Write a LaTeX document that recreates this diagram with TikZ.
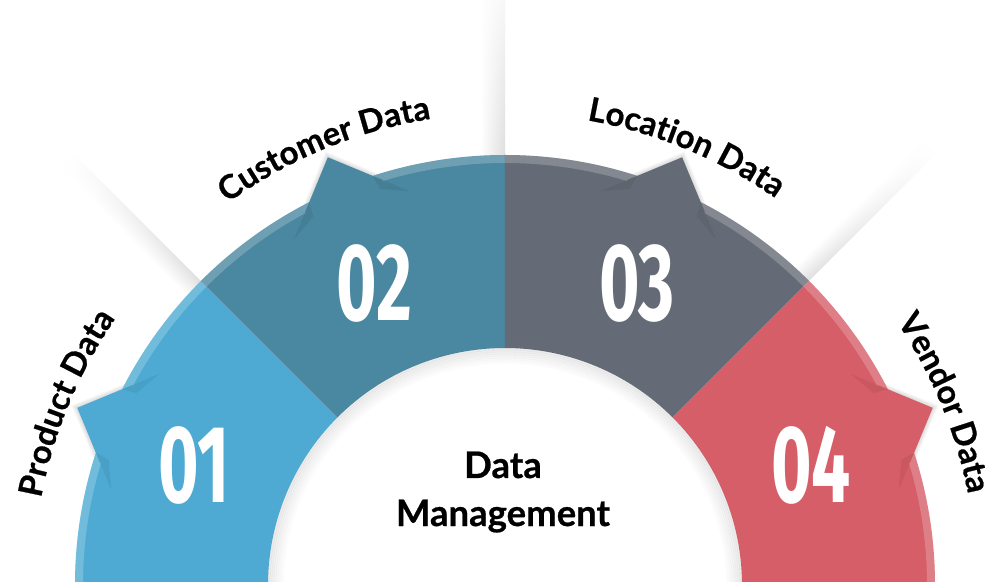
\documentclass[tikz,border=0pt]{standalone}
\usepackage{fontspec}
\setmainfont{Lato}[BoldFeatures={FakeBold=0.6}]
\newfontfamily\numfont{Fira Sans}
\usetikzlibrary{decorations.text,fadings}

\definecolor{segA}{RGB}{78,170,211}
\definecolor{segB}{RGB}{74,135,160}
\definecolor{segC}{RGB}{101,107,118}
\definecolor{segD}{RGB}{214,94,104}

\tikzset{
  arclabel/.style={decorate, decoration={text along path, text align=center,
      text={|\bfseries\fontsize{33}{33}\selectfont|#1}}},
  numlabel/.style={text=white, inner sep=0pt, font=\numfont\bfseries\fontsize{110}{110}\selectfont},
  hubtext/.style={text=black, inner sep=0pt, anchor=base, font=\bfseries\fontsize{36.5}{36.5}\selectfont},
  streak/.style={top color=white, bottom color=black!13, path fading=east}
}

\begin{document}
\begin{tikzpicture}[x=1pt,y=1pt]
\useasboundingbox (-505,4) rectangle (488,585);
\fill[white] (-505,4) rectangle (488,585);

% soft streaks on the counter-clockwise side of each divider, beyond the ring
\shade[streak, transform canvas={rotate=135}] (428,0) rectangle (610,20);
\shade[streak, transform canvas={rotate=45}] (428,0) rectangle (610,20);
\shade[streak, transform canvas={rotate=90}] (428,0) rectangle (630,24);

% soft shadows under the folded tabs
\foreach \t in {157.5,112.5,67.5,22.5}{
  \begin{scope}[rotate=\t]
    \foreach \s in {2,4,6,8}
      \fill[black, opacity=0.03] (463+0.8*\s,0) -- (420.6-0.3*\s,42.4+\s) -- (400,0) -- (420.6-0.3*\s,-42.4-\s) -- cycle;
  \end{scope}
}

% ring segments with a lighter outer rim
\foreach \a/\b/\c in {180/135/segA, 135/90/segB, 90/45/segC, 45/0/segD}{
  \fill[\c] (\a:237) arc[start angle=\a, end angle=\b, radius=237]
        -- (\b:430) arc[start angle=\b, end angle=\a, radius=430] -- cycle;
  \fill[white, opacity=0.2] (\a:422) arc[start angle=\a, end angle=\b, radius=422]
        -- (\b:430) arc[start angle=\b, end angle=\a, radius=430] -- cycle;
}

% folded tabs and their crease shading
\foreach \t/\c in {157.5/segA, 112.5/segB, 67.5/segC, 22.5/segD}{
  \begin{scope}[rotate=\t]
    \fill[\c] (463,0) -- (420.6,42.4) -- (400,0) -- (420.6,-42.4) -- cycle;
    \fill[black, opacity=0.06] (428.6,34.4) -- (400,63) -- (414,36) -- cycle;
    \fill[black, opacity=0.06] (428.6,-34.4) -- (400,-63) -- (414,-36) -- cycle;
  \end{scope}
}

% shadow on the inner edge of the ring
\foreach \r/\o in {236/0.08,234/0.07,232/0.06,230/0.05,228/0.04,226/0.03,224/0.02,222/0.01}
  \draw[black, opacity=\o, line width=2.2pt] (0,0) circle[radius=\r];

% numbers
\node[numlabel] (n1) at (-311,120) {\scalebox{0.63}[1]{01}};
\node[numlabel] (n2) at (-131,302) {\scalebox{0.63}[1]{02}};
\node[numlabel] (n3) at (132,302) {\scalebox{0.63}[1]{03}};
\node[numlabel] (n4) at (306,120) {\scalebox{0.63}[1]{04}};

% curved labels
\path[arclabel={Product Data}] (182.5:472) arc[start angle=182.5, end angle=132.5, radius=472];
\path[arclabel={Customer Data}] (137.5:472) arc[start angle=137.5, end angle=87.5, radius=472];
\path[arclabel={Location Data}] (92.5:472) arc[start angle=92.5, end angle=42.5, radius=472];
\path[arclabel={Vendor Data}] (47.5:472) arc[start angle=47.5, end angle=-2.5, radius=472];

% centre title
\node[hubtext] (hubtop) at (-2,107) {Data};
\node[hubtext] (hubbot) at (-2,59) {Management};
\end{tikzpicture}
\end{document}
